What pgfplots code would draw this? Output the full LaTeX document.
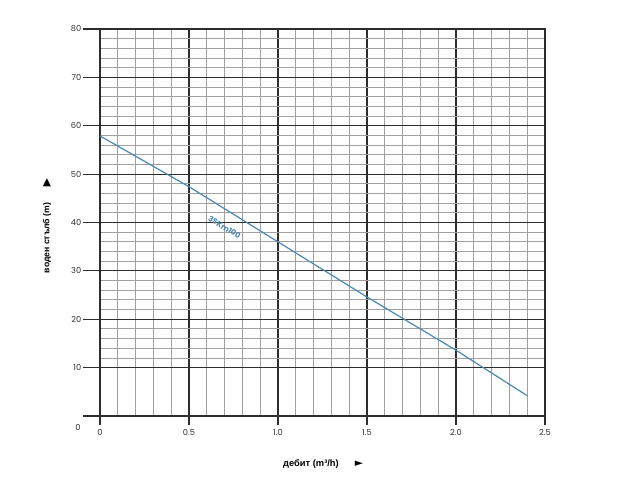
\documentclass[border=0pt]{standalone}
\usepackage{pgfplots}
\pgfplotsset{compat=1.18}
\usepackage{fontspec}
\setmainfont{Liberation Sans}
\newfontfamily\symfont{DejaVu Sans}
\newfontfamily\pop{Poppins}
\definecolor{lineblue}{RGB}{74,136,178}
\definecolor{majgrid}{RGB}{45,45,45}
\definecolor{mingrid}{RGB}{160,160,160}
\begin{document}
\begin{tikzpicture}[x=0.75pt,y=0.75pt]
\path[use as bounding box] (0,0) rectangle (640,480);
\begin{axis}[
  at={(75pt,48pt)}, anchor=south west,
  scale only axis, width=333.75pt, height=290.25pt,
  xmin=0, xmax=2.5, ymin=0, ymax=80,
  xtick={0,0.5,1.0,1.5,2.0,2.5},
  xticklabels={0,0.5,1.0,1.5,2.0,2.5},
  ytick={10,20,30,40,50,60,70,80},
  yticklabels={10,20,30,40,50,60,70,80},
  minor x tick num=4, minor y tick num=4,
  grid=both,
  major grid style={majgrid, line width=0.9pt},
  minor grid style={mingrid, line width=0.65pt},
  axis line style={majgrid, line width=0.9pt},
  major tick length=0pt, minor tick length=0pt,
  /pgf/number format/assume math mode=true,
  tick label style={font=\pop\fontsize{6.2}{7}\selectfont, text=black!80},
  xticklabel style={yshift=-6.5pt},
  yticklabel style={xshift=-10.5pt},
  clip=false,
]
\addplot[lineblue, line width=0.9pt] coordinates {
  (0,57.9) (0.5,47.4) (1.0,36.0) (1.5,24.6) (2.0,13.6) (2.4,4.2)
};
\pgfplotsinvokeforeach{0,10,20,30,40,50,60,70,80}{
  \draw[majgrid, line width=0.9pt] (axis cs:0,#1) -- ++(-12.75pt,0);
}
\pgfplotsinvokeforeach{0,0.5,1.0,1.5,2.0,2.5}{
  \draw[majgrid, line width=0.9pt] (axis cs:#1,0) -- ++(0,-6.75pt);
}
\node[lineblue, rotate=-31.3, font=\pop\bfseries\fontsize{5.8}{7}\selectfont] at (axis cs:0.70,39.0) {3SKm100};
\end{axis}
\node[font=\pop\fontsize{6.2}{7}\selectfont, text=black!80] at (78,53) {0};
\node[rotate=90, font=\fontsize{6.5}{7}\selectfont\bfseries] at (47,242) {воден стълб (m)};
\node[font=\symfont\fontsize{8}{9}\selectfont] at (47,297) {▲};
\node[font=\fontsize{7}{8}\selectfont\bfseries] at (311,16) {дебит (m³/h)};
\node[font=\symfont\fontsize{8}{9}\selectfont] at (359,16) {►};
\end{tikzpicture}
\end{document}
